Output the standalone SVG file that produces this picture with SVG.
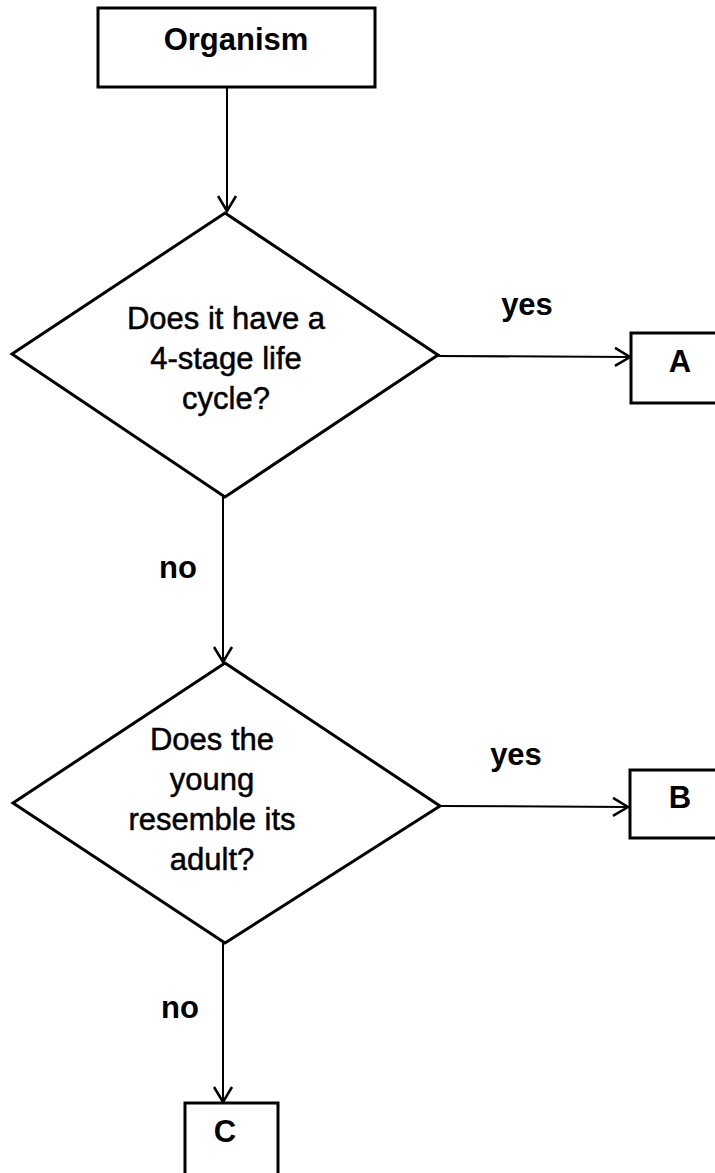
<svg xmlns="http://www.w3.org/2000/svg" width="715" height="1173" viewBox="0 0 715 1173">
<style>
.box{fill:#fff;stroke:#000;stroke-width:3}
.dia{fill:#fff;stroke:#000;stroke-width:3;stroke-linejoin:miter}
.con{fill:none;stroke:#000;stroke-width:2}
.lb{font-family:"Liberation Sans",Arial,sans-serif;font-size:31px;font-weight:bold;fill:#000;text-anchor:middle}
.q{font-family:"Liberation Sans",Arial,sans-serif;font-size:31px;fill:#000;stroke:#000;stroke-width:0.5;text-anchor:middle}
</style>
<defs>
<marker id="arr" markerUnits="userSpaceOnUse" markerWidth="24" markerHeight="24" refX="16" refY="10" orient="auto" viewBox="0 0 24 20">
<path d="M1 1 L16 10 L1 19" fill="none" stroke="#000" stroke-width="2.5"/>
</marker>
</defs>
<rect width="715" height="1173" fill="#fff"/>
<g id="connectors">
<line class="con" x1="227" y1="87" x2="227" y2="211" marker-end="url(#arr)"/>
<line class="con" x1="223" y1="497" x2="223" y2="662" marker-end="url(#arr)"/>
<line class="con" x1="438" y1="356" x2="630" y2="357" marker-end="url(#arr)"/>
<line class="con" x1="440" y1="806" x2="628" y2="807" marker-end="url(#arr)"/>
<line class="con" x1="223" y1="943" x2="223" y2="1102" marker-end="url(#arr)"/>
<text class="lb" x="527" y="315">yes</text>
<text class="lb" x="516" y="765">yes</text>
<text class="lb" x="178" y="578">no</text>
<text class="lb" x="180" y="1018">no</text>
</g>
<g id="organism">
<rect class="box" x="98" y="8" width="277" height="79"/>
<text class="lb" x="236" y="50">Organism</text>
</g>
<g id="q1">
<polygon class="dia" points="225,213 438,355 225,497 12,354"/>
<text class="q" x="226" y="329">Does it have a</text>
<text class="q" x="226" y="369">4-stage life</text>
<text class="q" x="226" y="409">cycle?</text>
</g>
<g id="a">
<rect class="box" x="631" y="333" width="100" height="70"/>
<text class="lb" x="680" y="372">A</text>
</g>
<g id="q2">
<polygon class="dia" points="225,663 440,806 225,943 13,803"/>
<text class="q" x="212" y="750">Does the</text>
<text class="q" x="212" y="790">young</text>
<text class="q" x="212" y="830">resemble its</text>
<text class="q" x="212" y="870">adult?</text>
</g>
<g id="b">
<rect class="box" x="630" y="770" width="100" height="68"/>
<text class="lb" x="680" y="808">B</text>
</g>
<g id="c">
<rect class="box" x="185" y="1103" width="93" height="80"/>
<text class="lb" x="225" y="1142">C</text>
</g>
</svg>
